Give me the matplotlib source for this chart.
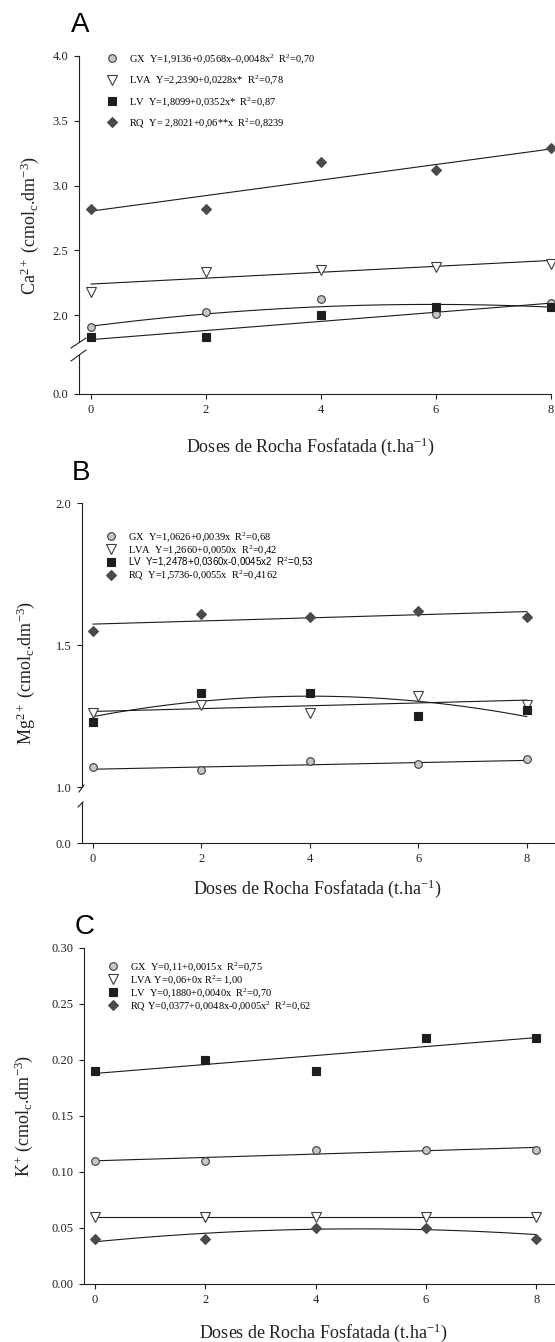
import numpy as np
import matplotlib
matplotlib.use("Agg")
import matplotlib.pyplot as plt
from matplotlib.lines import Line2D

plt.rcParams['font.family'] = ['Liberation Serif', 'DejaVu Serif']
plt.rcParams['mathtext.fontset'] = 'custom'
plt.rcParams['mathtext.rm'] = 'Liberation Serif'
plt.rcParams['mathtext.it'] = 'Liberation Serif:italic'
plt.rcParams['mathtext.bf'] = 'Liberation Serif:bold'

# doses (t/ha)
doses = [0, 2, 4, 6, 8]
dose_ticks = [0, 2, 4, 6, 8]

# --- A: Ca2+
ca_gx = [1.91, 2.02, 2.12, 2.01, 2.09]
ca_lva = [2.18, 2.33, 2.35, 2.37, 2.39]
ca_lv = [1.83, 1.83, 2.00, 2.06, 2.06]
ca_rq = [2.82, 2.82, 3.18, 3.12, 3.29]
ca_fit_gx = [-0.0048, 0.0568, 1.9136]
ca_fit_lva = [0.0228, 2.2390]
ca_fit_lv = [0.0352, 1.8099]
ca_fit_rq = [0.06, 2.8021]
ca_labels = ["GX  Y=1,9136+0,0568x\u20130,0048x$^2$  R$^2$=0,70",
             "LVA  Y=2,2390+0,0228x*  R$^2$=0,78",
             "LV  Y=1,8099+0,0352x*  R$^2$=0,87",
             "RQ  Y= 2,8021+0,06**x  R$^2$=0,8239"]
ca_yticks = [2.0, 2.5, 3.0, 3.5, 4.0]

# --- B: Mg2+
mg_gx = [1.07, 1.06, 1.09, 1.08, 1.10]
mg_lva = [1.26, 1.29, 1.26, 1.32, 1.29]
mg_lv = [1.23, 1.33, 1.33, 1.25, 1.27]
mg_rq = [1.55, 1.61, 1.60, 1.62, 1.60]
mg_fit_gx = [0.0039, 1.0626]
mg_fit_lva = [0.0050, 1.2660]
mg_fit_lv = [-0.0045, 0.0360, 1.2478]
mg_fit_rq = [0.0055, 1.5736]
mg_labels = ["GX  Y=1,0626+0,0039x  R$^2$=0,68",
             "LVA  Y=1,2660+0,0050x  R$^2$=0,42",
             "LV  Y=1,2478+0,0360x-0,0045x2  R$^2$=0,53",
             "RQ  Y=1,5736-0,0055x  R$^2$=0,4162"]
mg_yticks = [1.0, 1.5, 2.0]

# --- C: K+
k_gx = [0.11, 0.11, 0.12, 0.12, 0.12]
k_lva = [0.06, 0.06, 0.06, 0.06, 0.06]
k_lv = [0.19, 0.20, 0.19, 0.22, 0.22]
k_rq = [0.04, 0.04, 0.05, 0.05, 0.04]
k_fit_gx = [0.0015, 0.11]
k_fit_lva = [0.0, 0.06]
k_fit_lv = [0.0040, 0.1880]
k_fit_rq = [-0.0005, 0.0048, 0.0377]
k_labels = ["GX  Y=0,11+0,0015x  R$^2$=0,75",
            "LVA Y=0,06+0x R$^2$= 1,00",
            "LV  Y=0,1880+0,0040x  R$^2$=0,70",
            "RQ Y=0,0377+0,0048x-0,0005x$^2$  R$^2$=0,62"]
k_yticks = [0.00, 0.05, 0.10, 0.15, 0.20, 0.25, 0.30]

xlabel = "Doses de Rocha Fosfatada (t.ha$^{-1}$)"

styles = [
    dict(marker='o', mfc='#c6c6c6', mec='#3c3c3c', ms=5.5, mew=0.8),
    dict(marker='v', mfc='white', mec='#3c3c3c', ms=6.5, mew=0.8),
    dict(marker='s', mfc='#1e1e1e', mec='#1e1e1e', ms=5.5, mew=0.8),
    dict(marker='D', mfc='#4a4a4a', mec='#4a4a4a', ms=5.5, mew=0.8),
]
axcol = '#222222'

W, H = 555, 1342
fig = plt.figure(figsize=(W / 100, H / 100), dpi=100)


def px_axes(left, top, right, bottom):
    return fig.add_axes([left / W, 1 - bottom / H, (right - left) / W, (bottom - top) / H])


def style_ax(ax, spines):
    for s in ax.spines:
        ax.spines[s].set_visible(s in spines)
        ax.spines[s].set_color(axcol)
        ax.spines[s].set_linewidth(0.8)
    ax.tick_params(direction='out', length=3.5, width=0.8, colors=axcol,
                   labelsize=9, pad=4)
    ax.patch.set_alpha(0)


def draw_series(ax, ys, fits):
    xf = np.linspace(doses[0], doses[-1], 100)
    for y, c, st in zip(ys, fits, styles):
        ax.plot(xf, np.polyval(c, xf), color='#1a1a1a', lw=0.8, zorder=2, clip_on=False)
        ax.plot(doses, y, ls='none', zorder=3, clip_on=False, **st)


def add_legend(ax, labels, anchor, spacing):
    handles = [Line2D([], [], ls='none', **st) for st in styles]
    leg = ax.legend(handles, labels, loc='upper left',
                    bbox_to_anchor=(anchor[0] / W, 1 - anchor[1] / H),
                    bbox_transform=fig.transFigure, frameon=False, fontsize=7.5,
                    handlelength=1.2, handletextpad=1.0, labelspacing=spacing,
                    borderpad=0, borderaxespad=0)
    return leg


def slash(p0, p1):
    fig.add_artist(Line2D([p0[0] / W, p1[0] / W], [1 - p0[1] / H, 1 - p1[1] / H],
                          transform=fig.transFigure, color=axcol, lw=0.8))


# ---------- Panel A ----------
a_up = px_axes(79, 56, 551, 342)
a_lo = px_axes(79, 355, 551, 394)
style_ax(a_up, ['left'])
style_ax(a_lo, ['left', 'bottom'])
a_up.set_xlim(-0.21, 8.0)
a_lo.set_xlim(-0.21, 8.0)
a_up.set_ylim(4.0 - 286 / 129.5, 4.0)
a_lo.set_ylim(0, 39 / 129.5)
a_up.set_yticks(ca_yticks)
a_up.set_yticklabels([f"{v:.1f}" for v in ca_yticks])
a_up.set_xticks([])
a_lo.set_yticks([0.0])
a_lo.set_yticklabels(["0.0"])
a_lo.set_xticks(dose_ticks)
draw_series(a_up, [ca_gx, ca_lva, ca_lv, ca_rq],
            [ca_fit_gx, ca_fit_lva, ca_fit_lv, ca_fit_rq])
add_legend(a_up, ca_labels, (106, 52), 0.72)
slash((71, 348), (86, 338))
slash((71, 361), (86, 350))
fig.text(80 / W, 1 - 25 / H, "A", family='Liberation Sans', fontsize=20,
         ha='center', va='center')
fig.text(30 / W, 1 - 225 / H, "Ca$^{2+}$ (cmol$_\\mathrm{c}$.dm$^{-3}$)", rotation=90,
         fontsize=13, ha='center', va='center', color=axcol)
fig.text(310 / W, 1 - 447 / H, xlabel, fontsize=13, ha='center', va='center', color=axcol)

# ---------- Panel B ----------
b_up = px_axes(82, 503, 555, 787)
b_lo = px_axes(82, 802, 555, 843)
style_ax(b_up, ['left'])
style_ax(b_lo, ['left', 'bottom'])
b_up.set_xlim(-0.203, 8.52)
b_lo.set_xlim(-0.203, 8.52)
b_up.set_ylim(1.0, 2.0)
b_lo.set_ylim(0, 41 / 284)
b_up.set_yticks(mg_yticks)
b_up.set_yticklabels([f"{v:.1f}" for v in mg_yticks])
b_up.set_xticks([])
b_lo.set_yticks([0.0])
b_lo.set_yticklabels(["0.0"])
b_lo.set_xticks(dose_ticks)
draw_series(b_up, [mg_gx, mg_lva, mg_lv, mg_rq],
            [mg_fit_gx, mg_fit_lva, mg_fit_lv, mg_fit_rq])
leg_b = add_legend(b_up, mg_labels, (105, 530), -0.08)
leg_b.get_texts()[2].set_fontfamily('Liberation Sans')
leg_b.get_texts()[2].set_fontsize(7)
slash((79, 792), (84, 785))
slash((78, 807), (83, 802))
fig.text(81 / W, 1 - 473 / H, "B", family='Liberation Sans', fontsize=20,
         ha='center', va='center')
fig.text(26 / W, 1 - 673 / H, "Mg$^{2+}$ (cmol$_\\mathrm{c}$.dm$^{-3}$)", rotation=90,
         fontsize=13, ha='center', va='center', color=axcol)
fig.text(317 / W, 1 - 889 / H, xlabel, fontsize=13, ha='center', va='center', color=axcol)

# ---------- Panel C ----------
c_ax = px_axes(84, 948, 555, 1284)
style_ax(c_ax, ['left', 'bottom'])
c_ax.set_xlim(-0.2, 8.34)
c_ax.set_ylim(0, 0.30)
c_ax.set_yticks(k_yticks)
c_ax.set_yticklabels([f"{v:.2f}" for v in k_yticks])
c_ax.set_xticks(dose_ticks)
draw_series(c_ax, [k_gx, k_lva, k_lv, k_rq],
            [k_fit_gx, k_fit_lva, k_fit_lv, k_fit_rq])
add_legend(c_ax, k_labels, (107, 960), -0.08)
fig.text(85 / W, 1 - 927 / H, "C", family='Liberation Sans', fontsize=20,
         ha='center', va='center')
fig.text(24 / W, 1 - 1116 / H, "K$^{+}$ (cmol$_\\mathrm{c}$.dm$^{-3}$)", rotation=90,
         fontsize=13, ha='center', va='center', color=axcol)
fig.text(323 / W, 1 - 1333 / H, xlabel, fontsize=13, ha='center', va='center', color=axcol)

fig.savefig("out.png", dpi=100)
